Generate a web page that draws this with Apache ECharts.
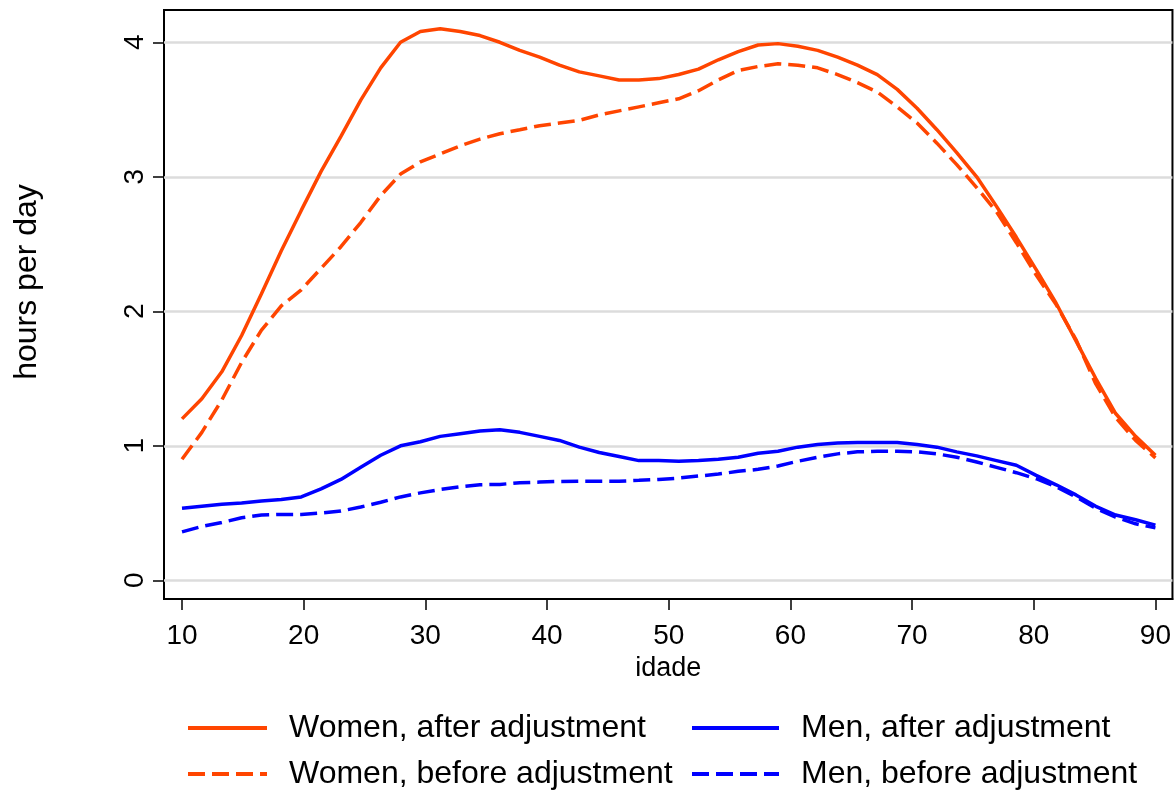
<!DOCTYPE html>
<html>
<head>
<meta charset="utf-8">
<script src="https://cdn.jsdelivr.net/npm/echarts@6/dist/echarts.min.js"></script>
<style>html,body{margin:0;padding:0;background:#fff;}#c{width:1174px;height:790px;}</style>
</head>
<body>
<div id="c"></div>
<script>
// ---- data ----
var age = [10, 11.63, 13.27, 14.90, 16.53, 18.16, 19.80, 21.43, 23.06, 24.69,
  26.33, 27.96, 29.59, 31.22, 32.86, 34.49, 36.12, 37.76, 39.39, 41.02,
  42.65, 44.29, 45.92, 47.55, 49.18, 50.82, 52.45, 54.08, 55.71, 57.35,
  58.98, 60.61, 62.24, 63.88, 65.51, 67.14, 68.78, 70.41, 72.04, 73.67,
  75.31, 76.94, 78.57, 80.20, 81.84, 83.47, 85.10, 86.73, 88.37, 90];
var womenAfter = [1.20, 1.35, 1.55, 1.82, 2.13, 2.45, 2.75, 3.04, 3.30, 3.57,
  3.81, 4.00, 4.08, 4.10, 4.08, 4.05, 4.00, 3.94, 3.89, 3.83,
  3.78, 3.75, 3.72, 3.72, 3.73, 3.76, 3.80, 3.87, 3.93, 3.98,
  3.99, 3.97, 3.94, 3.89, 3.83, 3.76, 3.65, 3.51, 3.35, 3.18,
  3.00, 2.78, 2.55, 2.31, 2.06, 1.78, 1.50, 1.24, 1.07, 0.93];
var womenBefore = [0.90, 1.10, 1.34, 1.62, 1.86, 2.04, 2.16, 2.32, 2.48, 2.66,
  2.86, 3.02, 3.11, 3.17, 3.23, 3.28, 3.32, 3.35, 3.38, 3.40,
  3.42, 3.46, 3.49, 3.52, 3.55, 3.58, 3.64, 3.72, 3.79, 3.82,
  3.84, 3.83, 3.81, 3.76, 3.70, 3.63, 3.52, 3.40, 3.25, 3.09,
  2.92, 2.74, 2.51, 2.27, 2.05, 1.79, 1.46, 1.21, 1.04, 0.91];
var menAfter = [0.535, 0.55, 0.565, 0.575, 0.59, 0.60, 0.62, 0.68, 0.75, 0.84,
  0.93, 1.00, 1.03, 1.07, 1.09, 1.11, 1.12, 1.10, 1.07, 1.04,
  0.99, 0.95, 0.92, 0.89, 0.89, 0.885, 0.89, 0.90, 0.915, 0.945,
  0.96, 0.99, 1.01, 1.02, 1.025, 1.025, 1.025, 1.01, 0.99, 0.955,
  0.925, 0.89, 0.855, 0.78, 0.71, 0.635, 0.55, 0.485, 0.45, 0.41];
var menBefore = [0.36, 0.40, 0.43, 0.465, 0.485, 0.49, 0.49, 0.50, 0.515, 0.545,
  0.58, 0.62, 0.65, 0.675, 0.695, 0.71, 0.713, 0.725, 0.73, 0.735,
  0.737, 0.737, 0.737, 0.743, 0.75, 0.76, 0.775, 0.79, 0.81, 0.825,
  0.85, 0.885, 0.915, 0.94, 0.955, 0.96, 0.96, 0.955, 0.94, 0.915,
  0.88, 0.84, 0.80, 0.755, 0.695, 0.62, 0.535, 0.47, 0.42, 0.39];
var xTicks = [10, 20, 30, 40, 50, 60, 70, 80, 90];
var yTicks = [0, 1, 2, 3, 4];
var seriesNames = ['Women, after adjustment', 'Women, before adjustment', 'Men, after adjustment', 'Men, before adjustment'];

// ---- chart ----
var FONT = 'Liberation Sans, Arial, Helvetica, sans-serif';
var ORANGE = '#ff4500';
var BLUE = '#0000ff';
function pairs(ys) { return age.map(function (a, i) { return [a, ys[i]]; }); }

var chart = echarts.init(document.getElementById('c'), null, { renderer: 'canvas' });
var legendText = { fontSize: 32, lineHeight: 32, color: '#000', padding: [0, 0, 0, 17], fontFamily: FONT };
var option = {
  animation: false,
  backgroundColor: '#ffffff',
  textStyle: { fontFamily: FONT },
  grid: { left: 164, top: 10, right: 1, bottom: 191, show: true, borderColor: '#000', borderWidth: 2, backgroundColor: 'transparent' },
  xAxis: {
    type: 'value', min: 8.52, max: 91.4,
    name: 'idade', nameLocation: 'middle', nameGap: 49,
    nameTextStyle: { fontSize: 27, color: '#000', fontFamily: FONT },
    axisLine: { show: true, onZero: false, lineStyle: { color: '#000', width: 2 } },
    axisTick: { show: true, inside: false, length: 11, customValues: xTicks, lineStyle: { color: '#000', width: 1.5 } },
    axisLabel: { customValues: xTicks, fontSize: 28, color: '#000', margin: 23, fontFamily: FONT },
    splitLine: { show: false }
  },
  yAxis: {
    type: 'value', min: -0.139, max: 4.24,
    axisLine: { show: true, onZero: false, lineStyle: { color: '#000', width: 2 } },
    axisTick: { show: true, inside: false, length: 11, customValues: yTicks, lineStyle: { color: '#000', width: 1.5 } },
    axisLabel: { customValues: yTicks, fontSize: 28, color: '#000', margin: 15, rotate: 90, fontFamily: FONT },
    splitLine: { show: false }
  },
  legend: [
    {
      left: 186, top: 712, orient: 'vertical', padding: 0, itemGap: 14,
      itemWidth: 79, itemHeight: 14,
      itemStyle: { opacity: 0, borderWidth: 0 },
      lineStyle: { width: 4 },
      data: [seriesNames[0], seriesNames[1]],
      textStyle: legendText
    },
    {
      left: 690, top: 712, orient: 'vertical', padding: 0, itemGap: 14,
      itemWidth: 87, itemHeight: 14,
      itemStyle: { opacity: 0, borderWidth: 0 },
      lineStyle: { width: 4 },
      data: [seriesNames[2], seriesNames[3]],
      textStyle: legendText
    }
  ],
  graphic: [
    {
      type: 'text', x: 27, y: 282, rotation: Math.PI / 2,
      style: { text: 'hours per day', fontSize: 32, fontFamily: FONT, fill: '#000', align: 'center', verticalAlign: 'middle' }
    }
  ],
  series: [
    {
      name: '__grid', type: 'line', data: [], silent: true,
      markLine: {
        silent: true, symbol: ['none', 'none'], z: 1, animation: false,
        label: { show: false },
        lineStyle: { color: '#dcdcdc', width: 2.5, type: 'solid' },
        emphasis: { disabled: true },
        data: yTicks.map(function (v) { return { yAxis: v }; })
      }
    },
    { name: seriesNames[0], type: 'line', data: pairs(womenAfter), symbol: 'none', z: 3,
      lineStyle: { color: ORANGE, width: 3.5 }, itemStyle: { color: ORANGE } },
    { name: seriesNames[1], type: 'line', data: pairs(womenBefore), symbol: 'none', z: 3,
      lineStyle: { color: ORANGE, width: 3.5, type: [17, 7] }, itemStyle: { color: ORANGE } },
    { name: seriesNames[2], type: 'line', data: pairs(menAfter), symbol: 'none', z: 3,
      lineStyle: { color: BLUE, width: 3.5 }, itemStyle: { color: BLUE } },
    { name: seriesNames[3], type: 'line', data: pairs(menBefore), symbol: 'none', z: 3,
      lineStyle: { color: BLUE, width: 3.5, type: [17, 7] }, itemStyle: { color: BLUE } }
  ]
};
chart.setOption(option);
</script>
</body>
</html>
